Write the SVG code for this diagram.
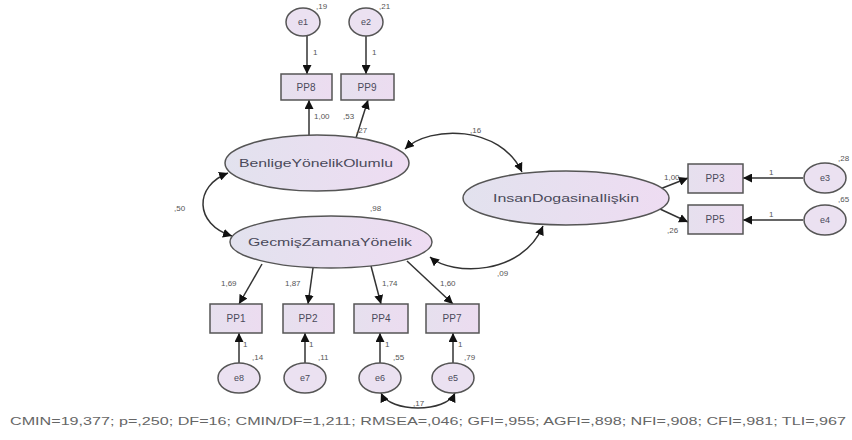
<svg xmlns="http://www.w3.org/2000/svg" width="852" height="440" viewBox="0 0 852 440">
<defs>
<linearGradient id="lat" x1="0" y1="0" x2="1" y2="0">
<stop offset="0" stop-color="#e2e2ee"/>
<stop offset="1" stop-color="#eedcf2"/>
</linearGradient>
<linearGradient id="box" x1="0" y1="0" x2="1" y2="0">
<stop offset="0" stop-color="#e6e0ee"/>
<stop offset="1" stop-color="#ecdcf0"/>
</linearGradient>
<marker id="ah" viewBox="0 0 10 10" refX="10" refY="5" markerWidth="9" markerHeight="9" markerUnits="userSpaceOnUse" orient="auto-start-reverse">
<path d="M0,0 L10,5 L0,10 z" fill="#111"/>
</marker>
</defs>
<style>
.lat{fill:url(#lat);stroke:#555;stroke-width:1.5}
.err{fill:#ebe1f1;stroke:#555;stroke-width:1.5}
.obs{fill:url(#box);stroke:#555;stroke-width:1.5}
.c{fill:none;stroke:#333;stroke-width:1.5}
.t{font-family:"Liberation Sans",Arial,sans-serif;fill:#4a4a5a;text-anchor:middle}
.nl{font-size:11px}
.bl{font-size:10px}
.el{font-size:9px}
.lb{font-family:"Liberation Sans",Arial,sans-serif;fill:#555;font-size:8px}
</style>
<rect width="852" height="440" fill="#fff"/>

<g id="connectors">
<line class="c" x1="307" y1="36" x2="307" y2="74" marker-end="url(#ah)"/>
<line class="c" x1="366" y1="36" x2="366" y2="74" marker-end="url(#ah)"/>
<line class="c" x1="309" y1="136" x2="309" y2="100" marker-end="url(#ah)"/>
<line class="c" x1="356" y1="138" x2="368" y2="100" marker-end="url(#ah)"/>
<line class="c" x1="803" y1="178" x2="743" y2="178" marker-end="url(#ah)"/>
<line class="c" x1="803" y1="220" x2="743" y2="220" marker-end="url(#ah)"/>
<line class="c" x1="660" y1="189" x2="688" y2="178" marker-end="url(#ah)"/>
<line class="c" x1="660" y1="209" x2="688" y2="222" marker-end="url(#ah)"/>
<line class="c" x1="262" y1="264" x2="239" y2="304" marker-end="url(#ah)"/>
<line class="c" x1="313" y1="268" x2="308" y2="304" marker-end="url(#ah)"/>
<line class="c" x1="371" y1="266" x2="381" y2="304" marker-end="url(#ah)"/>
<line class="c" x1="407" y1="261" x2="453" y2="304" marker-end="url(#ah)"/>
<line class="c" x1="239" y1="363" x2="239" y2="333" marker-end="url(#ah)"/>
<line class="c" x1="305" y1="363" x2="305" y2="333" marker-end="url(#ah)"/>
<line class="c" x1="380" y1="363" x2="380" y2="333" marker-end="url(#ah)"/>
<line class="c" x1="453" y1="363" x2="453" y2="333" marker-end="url(#ah)"/>
<path class="c" d="M228 173 C194 186, 194 224, 232 236" marker-start="url(#ah)" marker-end="url(#ah)"/>
<path class="c" d="M405 149 C430 125, 500 125, 522 172" marker-start="url(#ah)" marker-end="url(#ah)"/>
<path class="c" d="M430 257 C452 276, 522 276, 543 226" marker-start="url(#ah)" marker-end="url(#ah)"/>
<path class="c" d="M381 393 C390 413, 446 413, 455 393" marker-start="url(#ah)" marker-end="url(#ah)"/>
</g>

<g id="e1"><ellipse class="err" cx="303" cy="22" rx="17" ry="14"/><text class="t el" x="303" y="25">e1</text></g>
<g id="e2"><ellipse class="err" cx="366" cy="22" rx="17" ry="14"/><text class="t el" x="366" y="25">e2</text></g>
<g id="PP8"><rect class="obs" x="281" y="74" width="51" height="26"/><text class="t bl" x="306" y="91">PP8</text></g>
<g id="PP9"><rect class="obs" x="341" y="74" width="53" height="26"/><text class="t bl" x="367" y="91">PP9</text></g>
<g id="BenligeYonelikOlumlu"><ellipse class="lat" cx="317" cy="163" rx="92" ry="28"/><text class="t nl" x="316" y="167" textLength="154" lengthAdjust="spacingAndGlyphs">BenligeYönelikOlumlu</text></g>
<g id="GecmisZamanaYonelik"><ellipse class="lat" cx="331" cy="242" rx="101" ry="26"/><text class="t nl" x="330" y="246" textLength="164" lengthAdjust="spacingAndGlyphs">GecmişZamanaYönelik</text></g>
<g id="InsanDogasinaIliskin"><ellipse class="lat" cx="566" cy="198" rx="103" ry="27"/><text class="t nl" x="566" y="202" textLength="146" lengthAdjust="spacingAndGlyphs">InsanDogasinaIlişkin</text></g>
<g id="PP3"><rect class="obs" x="688" y="164" width="55" height="29"/><text class="t bl" x="715" y="182">PP3</text></g>
<g id="PP5"><rect class="obs" x="688" y="205" width="55" height="29"/><text class="t bl" x="715" y="223">PP5</text></g>
<g id="e3"><ellipse class="err" cx="825" cy="178" rx="21" ry="15"/><text class="t el" x="825" y="181">e3</text></g>
<g id="e4"><ellipse class="err" cx="825" cy="220" rx="21" ry="15"/><text class="t el" x="825" y="223">e4</text></g>
<g id="PP1"><rect class="obs" x="210" y="304" width="52" height="29"/><text class="t bl" x="236" y="322">PP1</text></g>
<g id="PP2"><rect class="obs" x="283" y="304" width="51" height="29"/><text class="t bl" x="308" y="322">PP2</text></g>
<g id="PP4"><rect class="obs" x="354" y="304" width="54" height="29"/><text class="t bl" x="381" y="322">PP4</text></g>
<g id="PP7"><rect class="obs" x="426" y="304" width="53" height="29"/><text class="t bl" x="452" y="322">PP7</text></g>
<g id="e8"><ellipse class="err" cx="239" cy="378" rx="21" ry="15"/><text class="t el" x="239" y="381">e8</text></g>
<g id="e7"><ellipse class="err" cx="305" cy="378" rx="21" ry="15"/><text class="t el" x="305" y="381">e7</text></g>
<g id="e6"><ellipse class="err" cx="380" cy="378" rx="21" ry="15"/><text class="t el" x="380" y="381">e6</text></g>
<g id="e5"><ellipse class="err" cx="453" cy="378" rx="21" ry="15"/><text class="t el" x="453" y="381">e5</text></g>

<g id="labels">
<text class="lb" x="316" y="9">,19</text>
<text class="lb" x="379" y="9">,21</text>
<text class="lb" x="313" y="55">1</text>
<text class="lb" x="372" y="55">1</text>
<text class="lb" x="314" y="119">1,00</text>
<text class="lb" x="343" y="119">,53</text>
<text class="lb" x="356" y="133">,27</text>
<text class="lb" x="470" y="133">,16</text>
<text class="lb" x="174" y="211">,50</text>
<text class="lb" x="370" y="211">,98</text>
<text class="lb" x="838" y="161">,28</text>
<text class="lb" x="838" y="202">,65</text>
<text class="lb" x="769" y="175">1</text>
<text class="lb" x="769" y="217">1</text>
<text class="lb" x="664" y="180">1,00</text>
<text class="lb" x="667" y="233">,26</text>
<text class="lb" x="221" y="286">1,69</text>
<text class="lb" x="285" y="286">1,87</text>
<text class="lb" x="382" y="286">1,74</text>
<text class="lb" x="440" y="286">1,60</text>
<text class="lb" x="497" y="276">,09</text>
<text class="lb" x="243" y="347">1</text>
<text class="lb" x="309" y="347">1</text>
<text class="lb" x="385" y="347">1</text>
<text class="lb" x="458" y="347">1</text>
<text class="lb" x="252" y="360">,14</text>
<text class="lb" x="318" y="360">,11</text>
<text class="lb" x="393" y="360">,55</text>
<text class="lb" x="464" y="360">,79</text>
<text class="lb" x="413" y="406">,17</text>
</g>
<text x="10" y="425" font-family="Liberation Sans, Arial, sans-serif" font-size="10" fill="#666" textLength="836" lengthAdjust="spacingAndGlyphs">CMIN=19,377; p=,250; DF=16; CMIN/DF=1,211; RMSEA=,046; GFI=,955; AGFI=,898; NFI=,908; CFI=,981; TLI=,967</text>
</svg>
